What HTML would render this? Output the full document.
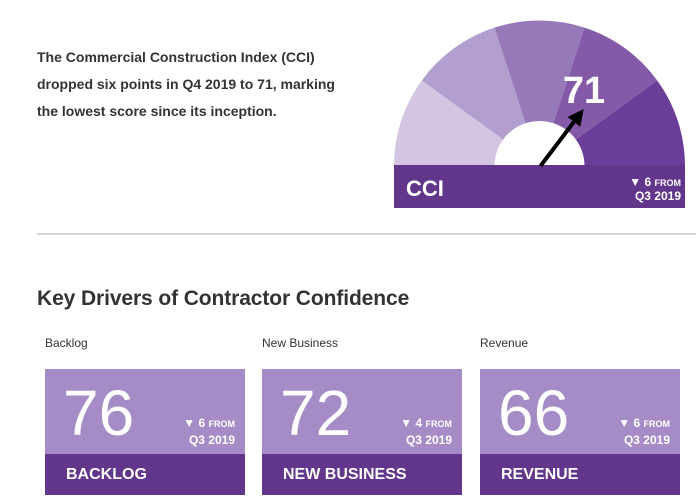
<!DOCTYPE html>
<html><head><meta charset="utf-8">
<style>
body{margin:0;width:696px;height:504px;background:#fff;position:relative;overflow:hidden;font-family:"Liberation Sans",sans-serif;}
.abs{position:absolute;}
#intro{left:37px;top:44px;width:312px;font-size:14px;font-weight:bold;line-height:27px;color:#333;}
#sep{left:37px;top:233px;width:659px;height:2px;background:#d6d6d6;}
#heading{left:37px;top:287px;font-size:21px;font-weight:bold;color:#333;letter-spacing:-0.1px;}
.lbl{font-size:12px;color:#333;top:336px;}
.card{top:369px;width:200px;height:126px;background:#a58cc6;}
.band{position:absolute;left:0;bottom:0;width:100%;height:41px;background:#62368b;}
.band span{position:absolute;left:21px;top:12px;color:#fff;font-weight:bold;font-size:16px;}
.num{position:absolute;left:18px;top:12px;color:#fff;font-size:64px;line-height:64px;font-weight:normal;}
.chg{position:absolute;right:10px;top:46px;color:#fff;font-weight:bold;font-size:12px;text-align:right;line-height:16px;}
.chg small{font-size:9px;}
</style></head><body>
<div id="intro" class="abs">The Commercial Construction Index (CCI) dropped six points in Q4 2019 to 71, marking the lowest score since its inception.</div>

<svg id="gauge" class="abs" style="left:0;top:0" width="696" height="220"></svg>

<div id="sep" class="abs"></div>
<div id="heading" class="abs">Key Drivers of Contractor Confidence</div>
<div id="cards"></div>

<script>
const segColors = ["#d4c5e2","#b29fcf","#9679b8","#8459a8","#6a3d99"];
const gaugeValue = 71;
const gaugeMax = 100;
const changeValue = 6;
const drivers = ["Backlog","New Business","Revenue"];
const driverValues = [76,72,66];
const driverChanges = [6,4,6];

const NS="http://www.w3.org/2000/svg";
const svg=document.getElementById('gauge');
const cx=539.5, cy=166, R=145.5, r=45;
function pt(a,rad){return [cx-rad*Math.cos(a), cy-rad*Math.sin(a)];}
segColors.forEach((c,i)=>{
  const a0=Math.PI*i/segColors.length, a1=Math.PI*(i+1)/segColors.length;
  const p0=pt(a0,R),p1=pt(a1,R);
  const p=document.createElementNS(NS,'path');
  p.setAttribute('d',`M${cx},${cy} L${p0[0]},${p0[1]} A${R},${R} 0 0 1 ${p1[0]},${p1[1]} Z`);
  p.setAttribute('fill',c);
  
  
  svg.appendChild(p);
});
const hole=document.createElementNS(NS,'circle');
hole.setAttribute('cx',cx);hole.setAttribute('cy',cy);hole.setAttribute('r',r);hole.setAttribute('fill','#fff');


svg.appendChild(hole);
const bar=document.createElementNS(NS,'rect');
bar.setAttribute('x',394);bar.setAttribute('y',165);bar.setAttribute('width',291);bar.setAttribute('height',43);bar.setAttribute('fill','#62368b');


svg.appendChild(bar);
const ang=Math.PI*gaugeValue/gaugeMax;
const tip=pt(ang,72), base=[cx+1,cy];
const dx=tip[0]-base[0], dy=tip[1]-base[1], L=Math.hypot(dx,dy), ux=dx/L, uy=dy/L;
const hb=[tip[0]-ux*16, tip[1]-uy*16];
const ln=document.createElementNS(NS,'line');
ln.setAttribute('x1',base[0]);ln.setAttribute('y1',base[1]);ln.setAttribute('x2',hb[0]);ln.setAttribute('y2',hb[1]);
ln.setAttribute('stroke','#000');ln.setAttribute('stroke-width',4);


svg.appendChild(ln);
const head=document.createElementNS(NS,'polygon');
head.setAttribute('points',`${tip[0]},${tip[1]} ${hb[0]-uy*8},${hb[1]+ux*8} ${hb[0]+uy*8},${hb[1]-ux*8}`);
head.setAttribute('fill','#000');


svg.appendChild(head);
function txt(x,y,s,size,anchor,name){
  const t=document.createElementNS(NS,'text');
  t.setAttribute('x',x);t.setAttribute('y',y);t.setAttribute('font-size',size);t.setAttribute('font-weight','bold');
  t.setAttribute('fill','#fff');t.setAttribute('text-anchor',anchor);t.setAttribute('font-family','Liberation Sans, sans-serif');
  t.textContent=s;
  
  
  svg.appendChild(t);return t;
}
txt(584,103,String(gaugeValue),38,'middle','cci-value');
txt(406,196,'CCI',22,'start','cci-label');
const ch=txt(681,186,'',12,'end','cci-change');
ch.innerHTML='\u25BC '+changeValue+' <tspan font-size="9">FROM</tspan>';
txt(681,200,'Q3 2019',12,'end','cci-change-period');

const lefts=[45,262,480];
const cont=document.getElementById('cards');
drivers.forEach((d,i)=>{
  const l=document.createElement('div');
  l.className='abs lbl';l.style.left=lefts[i]+'px';l.textContent=d;
  
  
  cont.appendChild(l);
  const c=document.createElement('div');
  c.className='abs card';c.style.left=lefts[i]+'px';
  
  
  c.innerHTML='<div class="num">'+driverValues[i]+'</div><div class="chg">\u25BC '+driverChanges[i]+' <small>FROM</small><br>Q3 2019</div><div class="band"><span>'+d.toUpperCase()+'</span></div>';
  cont.appendChild(c);
});
</script>
</body></html>
